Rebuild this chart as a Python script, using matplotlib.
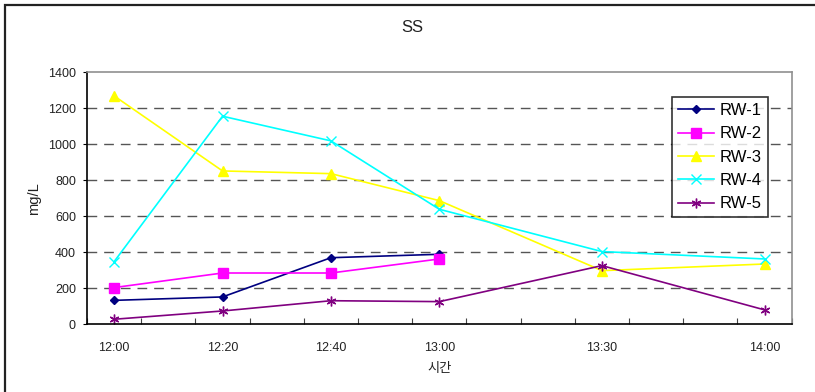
import matplotlib
matplotlib.use('Agg')
import matplotlib.pyplot as plt
from matplotlib.patches import Rectangle

plt.rcParams['font.family'] = ['Liberation Sans', 'Noto Sans CJK KR', 'DejaVu Sans']

# sampling times and SS concentration (mg/L) per well
times = ['12:00', '12:20', '12:40', '13:00', '13:30', '14:00']
rw1 = [133, 152, 370, 389]
rw2 = [204, 285, 285, 363]
rw3 = [1269, 852, 837, 687, 298, 335]
rw4 = [348, 1156, 1019, 639, 404, 363]
rw5 = [28, 74, 131, 126, 326, 80]

def to_min(t):
    h, m = t.split(':')
    return (int(h) - 12) * 60 + int(m)

mins = [to_min(t) for t in times]

fig = plt.figure(figsize=(8.15, 3.92), dpi=100)
ax = fig.add_axes([87 / 815, 1 - 324.3 / 392, 704.7 / 815, 252 / 392])

series = [
    ('RW-1', rw1, '#000080', 'D', 4.5),
    ('RW-2', rw2, '#FF00FF', 's', 6.5),
    ('RW-3', rw3, '#FFFF00', '^', 7),
    ('RW-4', rw4, '#00FFFF', 'x', 7),
    ('RW-5', rw5, '#800080', (6, 2, 0), 7),
]
for name, vals, col, mk, ms in series:
    ax.plot(mins[:len(vals)], vals, color=col, lw=1.2, marker=mk, ms=ms,
            mec=col, mew=1.0, label=name)

ax.set_xlim(-5, 125)
ax.set_ylim(0, 1400)
ax.set_yticks(range(0, 1401, 200))
ax.set_xticks(range(-5, 126, 10))
ax.set_xticklabels([])
ax.set_xticks(mins, minor=True)
ax.set_xticklabels(times, minor=True)
ax.tick_params(axis='x', which='major', direction='in', length=4, color='#444444')
ax.tick_params(axis='x', which='minor', length=0, pad=13, labelsize=9, labelcolor='#222222')
ax.tick_params(axis='y', direction='out', length=3, pad=5, labelsize=9, labelcolor='#222222')

for y in range(200, 1201, 200):
    ax.axhline(y, color='#555555', lw=1, ls=(0, (7, 5)), zorder=0)

for s in ['left', 'bottom']:
    ax.spines[s].set_color('black')
    ax.spines[s].set_linewidth(1.2)
for s in ['top', 'right']:
    ax.spines[s].set_color('#909090')
    ax.spines[s].set_linewidth(1.2)

ax.set_xlabel('시간', fontsize=9.5, color='#222222', labelpad=6)
ax.set_ylabel('mg/L', fontsize=10.5, color='#222222', labelpad=5)
fig.text(412 / 815, 1 - 28 / 392, 'SS', ha='center', va='center', fontsize=12, color='#222222')

leg = ax.legend(loc='upper left', bbox_to_anchor=(0.8297, 0.9008), borderaxespad=0,
                fontsize=12, frameon=True, fancybox=False, edgecolor='black',
                handlelength=2.2, handletextpad=0.35, labelspacing=0.5, borderpad=0.35)
leg.get_frame().set_linewidth(1.2)

# outer chart border
fig.patches.append(Rectangle((5 / 815, -0.1), 1.1, 1.1 - 5 / 392, transform=fig.transFigure,
                             fill=False, edgecolor='#222222', lw=1.6))

fig.savefig('out.png', dpi=100)
